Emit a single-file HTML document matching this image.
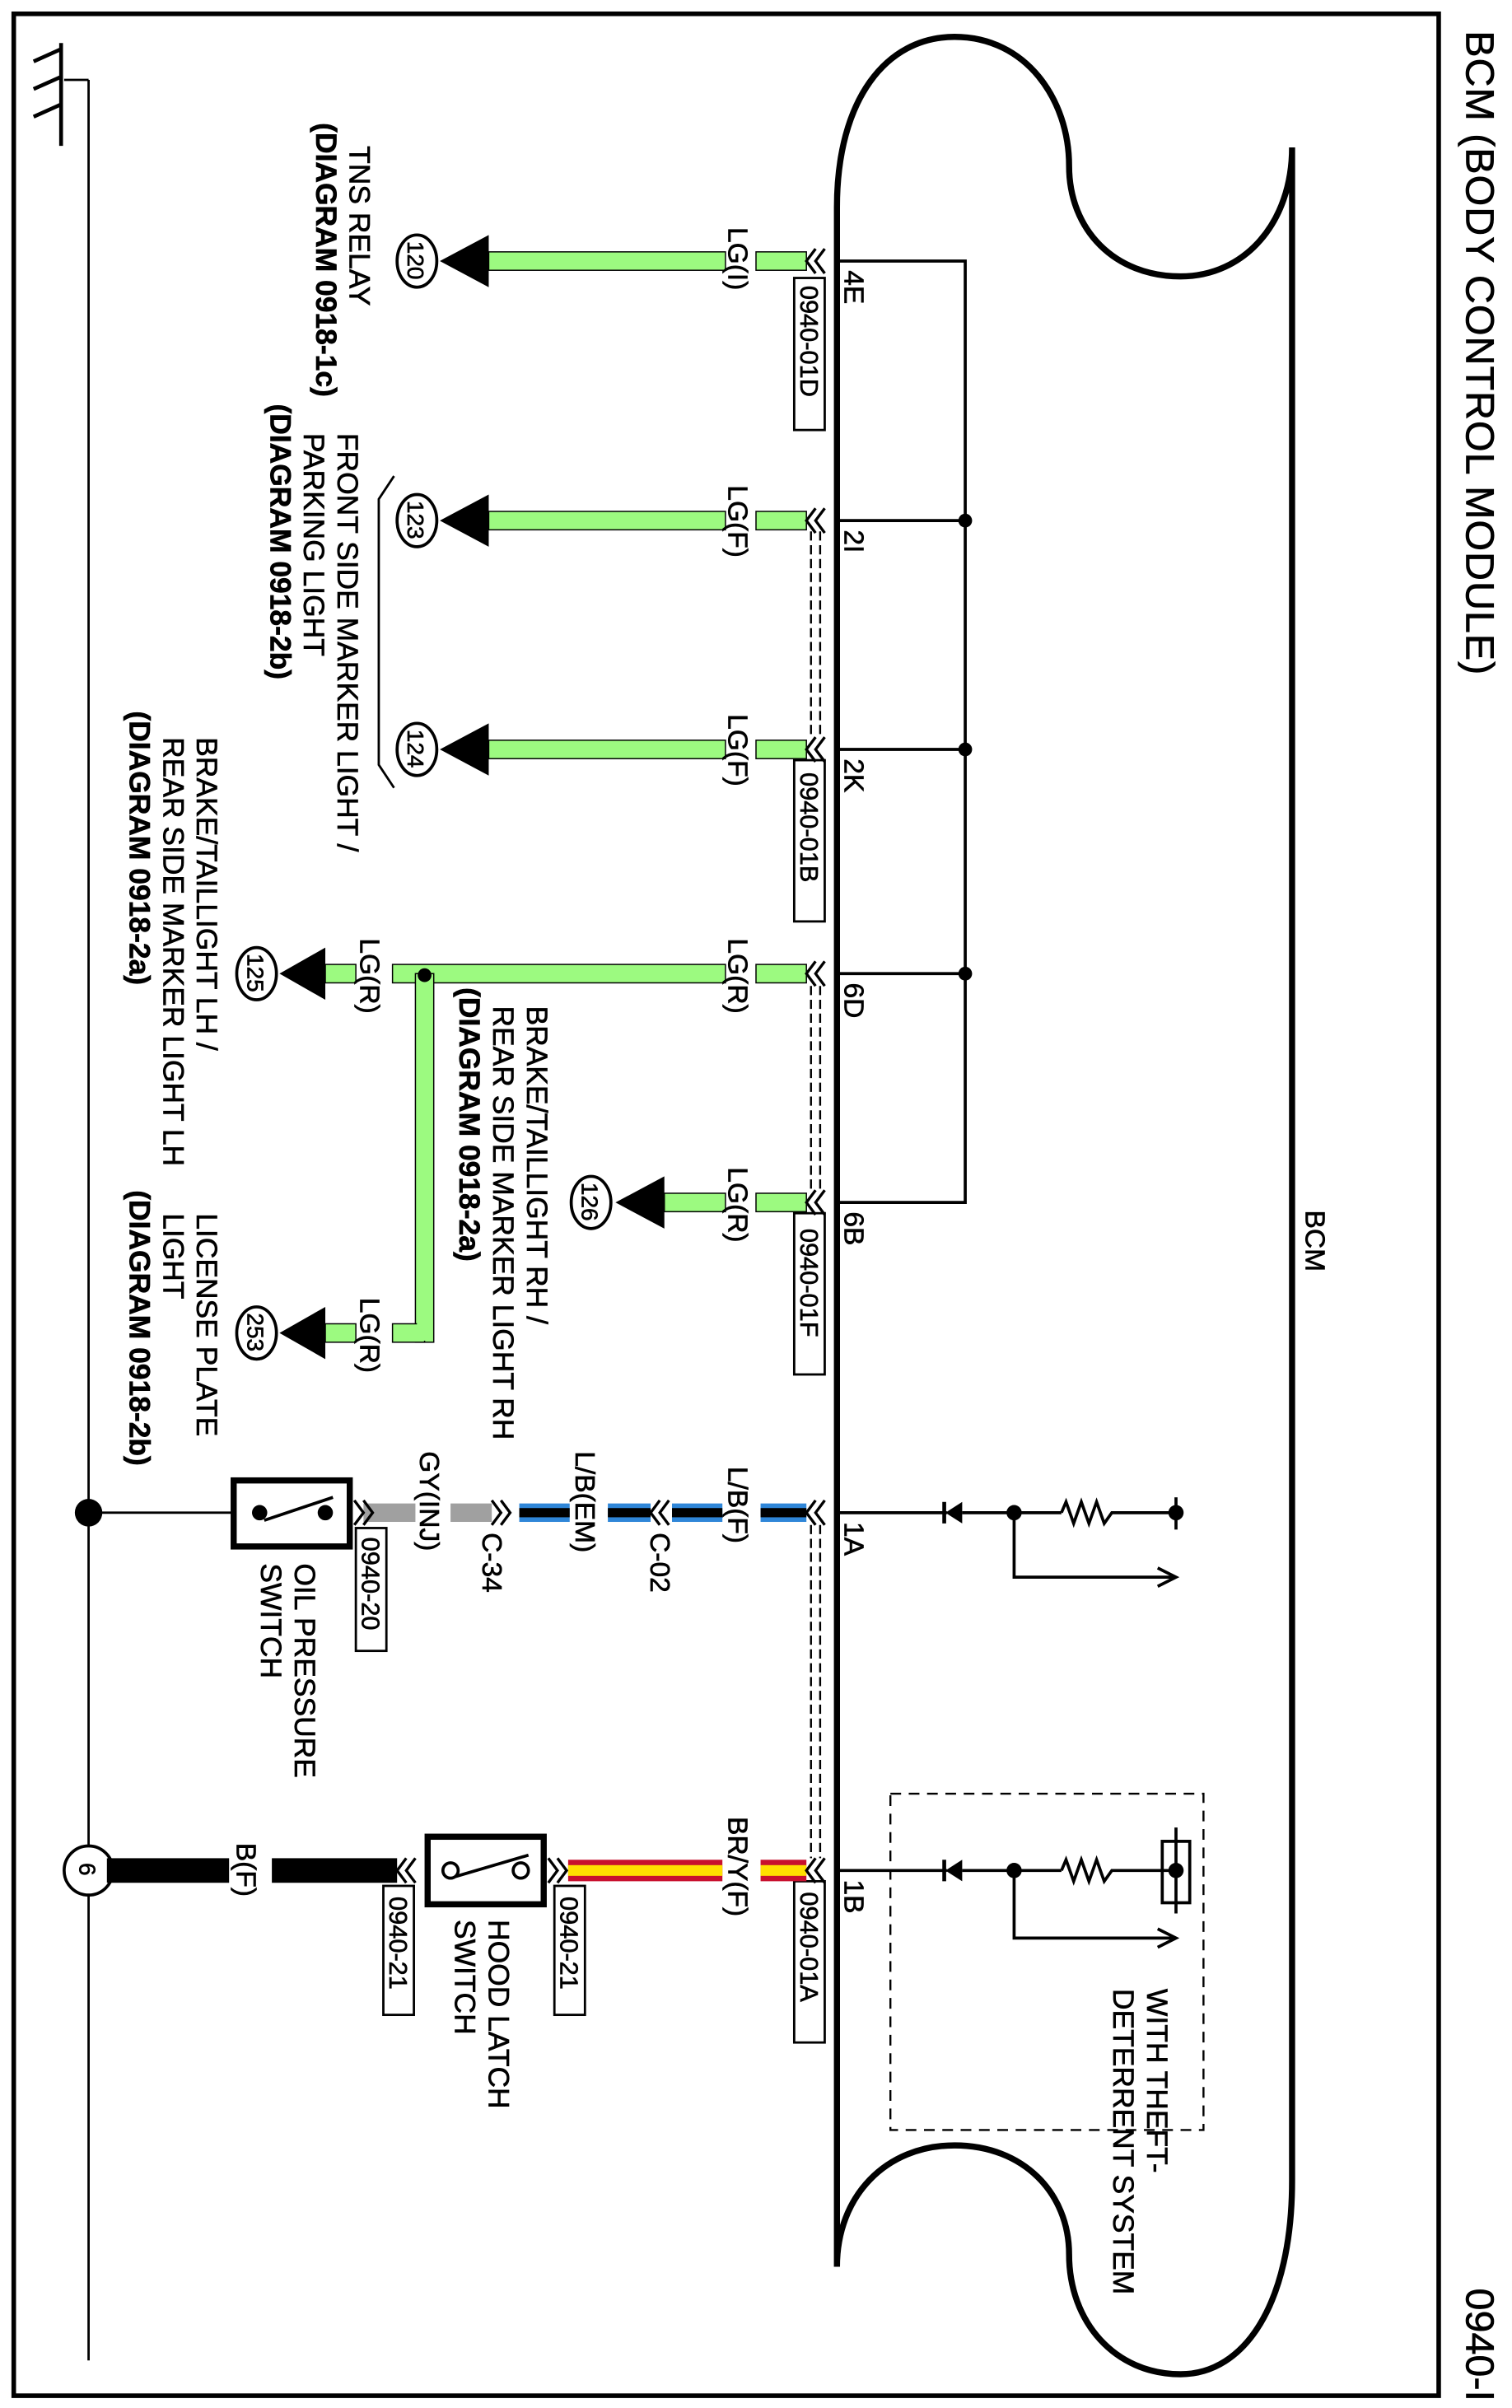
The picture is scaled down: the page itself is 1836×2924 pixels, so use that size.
<!DOCTYPE html>
<html><head><meta charset="utf-8"><style>
html,body{margin:0;padding:0;background:#fff}
svg{display:block}
text{font-family:"Liberation Sans",Arial,sans-serif;fill:#000;stroke:#000;stroke-width:0.35}
</style></head><body>
<svg width="1836" height="2924" viewBox="0 0 990 1568" preserveAspectRatio="none" xmlns="http://www.w3.org/2000/svg">
<rect x="0" y="0" width="990" height="1568" fill="#fff"/>
<rect x="9" y="9" width="933" height="1551" fill="none" stroke="#000" stroke-width="3"/>
<text transform="translate(960,20) rotate(90)" font-size="26" letter-spacing="0.5">BCM (BODY CONTROL MODULE)</text>
<text transform="translate(960,1490) rotate(90)" font-size="26">0940-I</text>
<g stroke="#000" stroke-width="2.5" fill="none">
<line x1="58" y1="52" x2="58" y2="1537" stroke-width="1.5"/>
<line x1="42" y1="52" x2="58" y2="52" stroke-width="1.5"/>
<line x1="40" y1="28" x2="40" y2="95"/>
<line x1="22" y1="40" x2="40" y2="32"/>
<line x1="22" y1="58" x2="40" y2="50"/>
<line x1="22" y1="76" x2="40" y2="68"/>
</g>
<g stroke="#000" stroke-width="4" fill="none">
<path d="M548,1476 L548,135 C548,65 580,24 625,24 C672,24 700,65 700,108 C700,150 730,180 773,180 C815,180 846,145 846,96 L846,1420 C846,1500 815,1546 773,1546 C730,1546 700,1512 700,1468 C700,1428 670,1397 625,1397 C580,1397 548,1430 548,1476"/>
</g>
<text transform="translate(855,788) rotate(90)" font-size="18">BCM</text>
<g stroke="#000" stroke-width="2" fill="none">
<polyline points="548,170 632,170 632,783 548,783"/>
<line x1="548" y1="339" x2="632" y2="339"/>
<line x1="548" y1="488" x2="632" y2="488"/>
<line x1="548" y1="634" x2="632" y2="634"/>
</g>
<g fill="#000"><circle cx="632" cy="339" r="4.5"/><circle cx="632" cy="488" r="4.5"/><circle cx="632" cy="634" r="4.5"/></g>
<g font-size="18">
<text transform="translate(553,176) rotate(90)">4E</text>
<text transform="translate(553,345) rotate(90)">2I</text>
<text transform="translate(553,494) rotate(90)">2K</text>
<text transform="translate(553,640) rotate(90)">6D</text>
<text transform="translate(553,789) rotate(90)">6B</text>
<text transform="translate(553,991) rotate(90)">1A</text>
<text transform="translate(553,1224) rotate(90)">1B</text>
</g>
<g stroke="#000" stroke-width="1.3" stroke-dasharray="6,3" fill="none">
<line x1="531" y1="346" x2="531" y2="480"/><line x1="537" y1="346" x2="537" y2="480"/>
<line x1="531" y1="642" x2="531" y2="776"/><line x1="537" y1="642" x2="537" y2="776"/>
<line x1="531" y1="993" x2="531" y2="1210"/><line x1="537" y1="993" x2="537" y2="1210"/>
</g>
<g fill="#9cfa80" stroke="#000" stroke-width="0.8">
<rect x="320" y="164" width="155" height="12"/><rect x="495" y="164" width="33" height="12"/>
<rect x="320" y="333" width="155" height="12"/><rect x="495" y="333" width="33" height="12"/>
<rect x="320" y="482" width="155" height="12"/><rect x="495" y="482" width="33" height="12"/>
<rect x="257" y="628" width="218" height="12"/><rect x="495" y="628" width="33" height="12"/>
<rect x="213" y="628" width="20" height="12"/>
<rect x="435" y="777" width="40" height="12"/><rect x="495" y="777" width="33" height="12"/>
<rect x="272" y="634" width="12" height="240"/>
<rect x="257" y="862" width="21" height="12"/>
<rect x="213" y="862" width="20" height="12"/>
</g>
<rect x="273" y="636" width="10" height="237" fill="#9cfa80"/>
<rect x="258" y="863" width="22" height="10" fill="#9cfa80"/>
<circle cx="278" cy="635" r="4.5" fill="#000"/>
<g font-size="18">
<text transform="translate(477,148) rotate(90)">LG(I)</text>
<text transform="translate(477,316) rotate(90)">LG(F)</text>
<text transform="translate(477,465) rotate(90)">LG(F)</text>
<text transform="translate(477,611) rotate(90)">LG(R)</text>
<text transform="translate(477,760) rotate(90)">LG(R)</text>
<text transform="translate(236,611) rotate(90)">LG(R)</text>
<text transform="translate(236,845) rotate(90)">LG(R)</text>
<text transform="translate(477,955) rotate(90)">L/B(F)</text>
<text transform="translate(377,945) rotate(90)">L/B(EM)</text>
<text transform="translate(275,945) rotate(90)">GY(INJ)</text>
<text transform="translate(426,998) rotate(90)">C-02</text>
<text transform="translate(316,998) rotate(90)">C-34</text>
<text transform="translate(477,1183) rotate(90)">BR/Y(F)</text>
<text transform="translate(155,1200) rotate(90)">B(F)</text>
</g>
<g fill="#000">
<polygon points="288,170 320,153 320,187"/>
<polygon points="288,339 320,322 320,356"/>
<polygon points="288,488 320,471 320,505"/>
<polygon points="183,634 213,617 213,651"/>
<polygon points="183,868 213,851 213,885"/>
<polygon points="403,783 435,766 435,800"/>
</g>
<g fill="#fff" stroke="#000" stroke-width="2">
<ellipse cx="273" cy="170" rx="13" ry="17"/>
<ellipse cx="273" cy="339" rx="13" ry="17"/>
<ellipse cx="273" cy="488" rx="13" ry="17"/>
<ellipse cx="168" cy="634" rx="13" ry="17"/>
<ellipse cx="168" cy="868" rx="13" ry="17"/>
<ellipse cx="387" cy="783" rx="13" ry="17"/>
<ellipse cx="58" cy="1218" rx="16" ry="16"/>
</g>
<g font-size="15">
<text transform="translate(267,157) rotate(90)">120</text>
<text transform="translate(267,326) rotate(90)">123</text>
<text transform="translate(267,475) rotate(90)">124</text>
<text transform="translate(162,621) rotate(90)">125</text>
<text transform="translate(162,855) rotate(90)">253</text>
<text transform="translate(381,770) rotate(90)">126</text>
<text transform="translate(52,1213) rotate(90)" font-size="15">6</text>
</g>
<polyline points="258,310 248,325 248,498 258,513" fill="none" stroke="#000" stroke-width="1.5"/>
<g font-size="19">
<text transform="translate(229,95) rotate(90)">TNS RELAY</text>
<text transform="translate(207,80) rotate(90)" font-family="Liberation Serif" font-weight="bold">(DIAGRAM 0918-1c)</text>
<text transform="translate(221,282) rotate(90)">FRONT SIDE MARKER LIGHT /</text>
<text transform="translate(199,282) rotate(90)">PARKING LIGHT</text>
<text transform="translate(177,263) rotate(90)" font-family="Liberation Serif" font-weight="bold">(DIAGRAM 0918-2b)</text>
<text transform="translate(129,480) rotate(90)">BRAKE/TAILLIGHT LH /</text>
<text transform="translate(107,480) rotate(90)">REAR SIDE MARKER LIGHT LH</text>
<text transform="translate(85,463) rotate(90)" font-family="Liberation Serif" font-weight="bold">(DIAGRAM 0918-2a)</text>
<text transform="translate(345,655) rotate(90)">BRAKE/TAILLIGHT RH /</text>
<text transform="translate(323,655) rotate(90)">REAR SIDE MARKER LIGHT RH</text>
<text transform="translate(301,643) rotate(90)" font-family="Liberation Serif" font-weight="bold">(DIAGRAM 0918-2a)</text>
<text transform="translate(129,790) rotate(90)">LICENSE PLATE</text>
<text transform="translate(107,790) rotate(90)">LIGHT</text>
<text transform="translate(85,775) rotate(90)" font-family="Liberation Serif" font-weight="bold">(DIAGRAM 0918-2b)</text>
<text transform="translate(193,1018) rotate(90)">OIL PRESSURE</text>
<text transform="translate(171,1018) rotate(90)">SWITCH</text>
<text transform="translate(320,1250) rotate(90)">HOOD LATCH</text>
<text transform="translate(298,1250) rotate(90)">SWITCH</text>
<text transform="translate(751,1295) rotate(90)">WITH THEFT-</text>
<text transform="translate(729,1295) rotate(90)">DETERRENT SYSTEM</text>
</g>
<g fill="#fff" stroke="#000" stroke-width="1.5">
<rect x="520" y="181" width="20" height="99"/>
<rect x="520" y="495" width="20" height="105"/>
<rect x="520" y="790" width="20" height="105"/>
<rect x="520" y="1225" width="20" height="105"/>
<rect x="233" y="995" width="20" height="80"/>
<rect x="363" y="1228" width="20" height="84"/>
<rect x="251" y="1228" width="20" height="84"/>
</g>
<g font-size="16.5">
<text transform="translate(524,186) rotate(90)">0940-01D</text>
<text transform="translate(524,503) rotate(90)">0940-01B</text>
<text transform="translate(524,800) rotate(90)">0940-01F</text>
<text transform="translate(524,1232) rotate(90)">0940-01A</text>
<text transform="translate(237,1001) rotate(90)">0940-20</text>
<text transform="translate(367,1235) rotate(90)">0940-21</text>
<text transform="translate(255,1235) rotate(90)">0940-21</text>
</g>
<g>
<rect x="498" y="979" width="30" height="12" fill="#2f86d8"/>
<rect x="440" y="979" width="33" height="12" fill="#2f86d8"/>
<rect x="398" y="979" width="28" height="12" fill="#2f86d8"/>
<rect x="340" y="979" width="33" height="12" fill="#2f86d8"/>
<rect x="498" y="982" width="30" height="6" fill="#000"/>
<rect x="440" y="982" width="33" height="6" fill="#000"/>
<rect x="398" y="982" width="28" height="6" fill="#000"/>
<rect x="340" y="982" width="33" height="6" fill="#000"/>
<rect x="295" y="979" width="27" height="12" fill="#a0a0a0"/>
<rect x="238" y="979" width="34" height="12" fill="#a0a0a0"/>
</g>
<line x1="58" y1="985" x2="152" y2="985" stroke="#000" stroke-width="1.5"/>
<circle cx="58" cy="985" r="9" fill="#000"/>
<rect x="153" y="964" width="76" height="43" fill="#fff" stroke="#000" stroke-width="4"/>
<circle cx="170" cy="985" r="5" fill="#000"/><circle cx="213" cy="985" r="5" fill="#000"/>
<line x1="173" y1="990" x2="218" y2="975" stroke="#000" stroke-width="2"/>
<g>
<rect x="498" y="1211" width="30" height="14" fill="#c8102e"/>
<rect x="372" y="1211" width="101" height="14" fill="#c8102e"/>
<rect x="498" y="1214.5" width="30" height="7" fill="#ffe000"/>
<rect x="372" y="1214.5" width="101" height="7" fill="#ffe000"/>
<rect x="70" y="1210" width="80" height="16" fill="#000"/>
<rect x="178" y="1210" width="82" height="16" fill="#000"/>
</g>
<rect x="280" y="1196" width="76" height="44" fill="#fff" stroke="#000" stroke-width="4"/>
<circle cx="295" cy="1218" r="5" fill="#fff" stroke="#000" stroke-width="2"/>
<circle cx="341" cy="1218" r="5" fill="#fff" stroke="#000" stroke-width="2"/>
<line x1="298" y1="1222" x2="346" y2="1208" stroke="#000" stroke-width="2"/>
<g stroke="#000" stroke-width="1.8" fill="none">
<polyline points="534,162 528,170 534,178"/><polyline points="540,162 534,170 540,178"/>
<polyline points="534,331 528,339 534,347"/><polyline points="540,331 534,339 540,347"/>
<polyline points="534,480 528,488 534,496"/><polyline points="540,480 534,488 540,496"/>
<polyline points="534,626 528,634 534,642"/><polyline points="540,626 534,634 540,642"/>
<polyline points="534,775 528,783 534,791"/><polyline points="540,775 534,783 540,791"/>
<polyline points="534,977 528,985 534,993"/><polyline points="540,977 534,985 540,993"/>
<polyline points="432,977 426,985 432,993"/><polyline points="438,977 432,985 438,993"/>
<polyline points="322,977 328,985 322,993"/><polyline points="328,977 334,985 328,993"/>
<polyline points="232,977 238,985 232,993"/><polyline points="238,977 244,985 238,993"/>
<polyline points="534,1210 528,1218 534,1226"/><polyline points="540,1210 534,1218 540,1226"/>
<polyline points="359,1210 365,1218 359,1226"/><polyline points="365,1210 371,1218 365,1226"/>
<polyline points="266,1210 260,1218 266,1226"/><polyline points="272,1210 266,1218 272,1226"/>
</g>
<g stroke="#000" stroke-width="2" fill="none">
<line x1="548" y1="985" x2="620" y2="985"/>
<line x1="630" y1="985" x2="695" y2="985"/>
<polyline points="695,985 698,978 703,992 708,978 713,992 718,978 723,992 728,985 770,985"/>
<line x1="770" y1="975" x2="770" y2="996"/>
<polyline points="664,985 664,1027 770,1027"/>
<polyline points="758,1021 770,1027 758,1033"/>
<line x1="548" y1="1218" x2="620" y2="1218"/>
<line x1="630" y1="1218" x2="695" y2="1218"/>
<polyline points="695,1218 698,1211 703,1225 708,1211 713,1225 718,1211 723,1225 728,1218 770,1218"/>
<rect x="761" y="1199" width="18" height="40"/>
<line x1="770" y1="1190" x2="770" y2="1246"/>
<polyline points="664,1218 664,1262 770,1262"/>
<polyline points="758,1256 770,1262 758,1268"/>
</g>
<g fill="#000">
<polygon points="619,985 630,978 630,992"/><rect x="617" y="978" width="2.5" height="14"/>
<circle cx="664" cy="985" r="5"/><circle cx="770" cy="985" r="5"/>
<polygon points="619,1218 630,1211 630,1225"/><rect x="617" y="1211" width="2.5" height="14"/>
<circle cx="664" cy="1218" r="5"/><circle cx="770" cy="1218" r="5"/>
</g>
<rect x="583" y="1168" width="205" height="219" fill="none" stroke="#000" stroke-width="1.3" stroke-dasharray="7,5"/>
</svg>
</body></html>
